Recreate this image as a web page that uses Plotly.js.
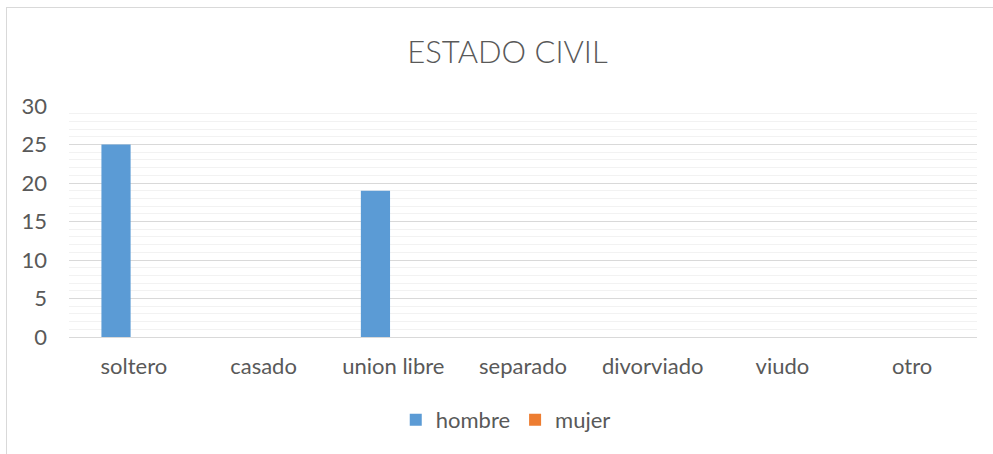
<!DOCTYPE html>
<html>
<head>
<meta charset="utf-8">
<script src="https://cdn.plot.ly/plotly-3.0.1.min.js"></script>
<style>
html,body{margin:0;padding:0;background:#fff;overflow:hidden;}
#chart{position:absolute;left:0;top:0;width:993px;height:454px;}
#frame{position:absolute;left:6px;top:7px;width:1200px;height:800px;border-left:1px solid #D9D9D9;border-top:1px solid #D9D9D9;pointer-events:none;}
</style>
</head>
<body>
<div id="chart"></div>
<div id="frame"></div>
<script>
const categories = ["soltero", "casado", "union libre", "separado", "divorviado", "viudo", "otro"];
const hombre = [25, 0, 19, 0, 0, 0, 0];
const mujer = [0, 0, 0, 0, 0, 0, 0];
const seriesNames = ["hombre", "mujer"];
const yTicks = [0, 5, 10, 15, 20, 25, 30];

const font = "Lato, 'Open Sans', sans-serif";
const data = [
  {type: "bar", name: seriesNames[0], x: categories, y: hombre, marker: {color: "#5B9BD5"}, width: 0.225, offset: -0.25},
  {type: "bar", name: seriesNames[1], x: categories, y: mujer, marker: {color: "#ED7D31"}, width: 0.225, offset: -0.025}
];
const layout = {
  width: 993, height: 454,
  margin: {l: 69, r: 16, t: 106, b: 117},
  paper_bgcolor: "#fff", plot_bgcolor: "#fff",
  font: {family: font, color: "#595959", size: 22},
  title: {text: "ESTADO CIVIL", font: {family: "Lato Light, Lato, sans-serif", size: 31, color: "#595959", weight: 300}, x: 0.511, xanchor: "center", y: 1 - 52/454, yanchor: "middle"},
  barmode: "group", bargap: 0.55, bargroupgap: 0,
  xaxis: {type: "category", showgrid: false, showline: false, zeroline: false, ticks: "", tickfont: {size: 22, color: "#595959"}, ticklabelstandoff: 14},
  yaxis: {range: [0, 30], tickvals: yTicks, showgrid: true, gridcolor: "#D9D9D9", gridwidth: 1,
          zeroline: true, zerolinecolor: "#D9D9D9", zerolinewidth: 1, showline: false,
          minor: {dtick: 1, showgrid: true, gridcolor: "#F2F2F2", gridwidth: 1},
          tickfont: {size: 22, color: "#595959"}, ticklabelstandoff: 21},
  legend: {orientation: "h", x: 0.481, xanchor: "center", y: -0.359, yanchor: "middle", font: {size: 22, color: "#595959"}, itemwidth: 30},
  showlegend: true
};
Plotly.newPlot("chart", data, layout, {displayModeBar: false, staticPlot: true});
</script>
</body>
</html>
